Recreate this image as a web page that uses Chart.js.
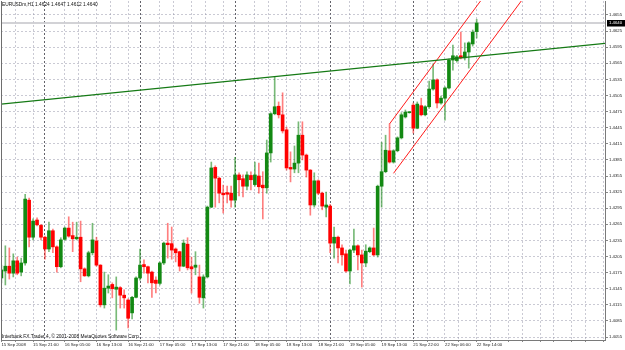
<!DOCTYPE html>
<html lang="en">
  <head>
    <meta charset="UTF-8" />
    <title>EURUSDm,H1</title>
    <style>
      html, body { margin: 0; padding: 0; background: #fff; }
      #wrap { position: relative; width: 625px; height: 350px; }
      #header, #footer {
        position: absolute;
        left: 2px;
        font-family: "Liberation Sans", Arial, sans-serif;
        font-size: 4.8px;
        line-height: 1;
        color: #111;
        white-space: nowrap;
      }
      #header { top: 3px; }
      #footer { top: 335px; }
    </style>
  </head>
  <body>
    <div id="wrap">
      <canvas id="eurusd" width="625" height="350"></canvas>
      <div id="header">EURUSDm,H1 1.4624 1.4647 1.4612 1.4640</div>
      <div id="footer">Interbank FX Trader 4, © 2001-2008 MetaQuotes Software Corp.</div>
    </div>
    <script src="https://cdn.jsdelivr.net/npm/chart.js"></script>
    <script>
      // EURUSDm H1 bars, 15 Sep 2008 13:00 .. 22 Sep 14:00
      const opens = [
        1.4165, 1.4178, 1.4187, 1.4174, 1.4197, 1.4176, 1.4193, 1.4310, 1.4241, 1.4273,
        1.4263, 1.4241, 1.4219, 1.4253, 1.4223, 1.4186, 1.4237, 1.4258, 1.4244, 1.4238,
        1.4241, 1.4182, 1.4169, 1.4212, 1.4234, 1.4189, 1.4115, 1.4146, 1.4153, 1.4144,
        1.4147, 1.4133, 1.4124, 1.4100, 1.4129, 1.4165, 1.4190, 1.4186, 1.4176, 1.4161,
        1.4155, 1.4193, 1.4230, 1.4229, 1.4219, 1.4214, 1.4187, 1.4228, 1.4186, 1.4185,
        1.4167, 1.4128, 1.4167, 1.4297, 1.4371, 1.4351, 1.4323, 1.4324, 1.4323, 1.4310,
        1.4357, 1.4350, 1.4336, 1.4356, 1.4339, 1.4355, 1.4338, 1.4333, 1.4398, 1.4471,
        1.4485, 1.4469, 1.4441, 1.4371, 1.4368, 1.4379, 1.4431, 1.4394, 1.4366, 1.4301,
        1.4346, 1.4323, 1.4297, 1.4299, 1.4230, 1.4241, 1.4221, 1.4210, 1.4178, 1.4217,
        1.4225, 1.4208, 1.4193, 1.4214, 1.4221, 1.4208, 1.4336, 1.4363, 1.4402, 1.4381,
        1.4402, 1.4426, 1.4465, 1.4473, 1.4487, 1.4444, 1.4486, 1.4469, 1.4484, 1.4517,
        1.4534, 1.4491, 1.4500, 1.4519, 1.4571, 1.4570, 1.4579, 1.4575, 1.4586, 1.4601,
        1.4624
      ];
      const highs = [
        1.4189, 1.4225, 1.4221, 1.4210, 1.4204, 1.4202, 1.4321, 1.4314, 1.4275, 1.4277,
        1.4265, 1.4243, 1.4269, 1.4256, 1.4225, 1.4240, 1.4260, 1.4279, 1.4269, 1.4269,
        1.4271, 1.4184, 1.4215, 1.4267, 1.4241, 1.4190, 1.4176, 1.4171, 1.4156, 1.4167,
        1.4149, 1.4143, 1.4126, 1.4131, 1.4167, 1.4219, 1.4199, 1.4187, 1.4178, 1.4167,
        1.4195, 1.4232, 1.4267, 1.4260, 1.4221, 1.4215, 1.4236, 1.4240, 1.4204, 1.4214,
        1.4189, 1.4171, 1.4299, 1.4381, 1.4374, 1.4353, 1.4338, 1.4336, 1.4336, 1.4390,
        1.4361, 1.4357, 1.4363, 1.4363, 1.4381, 1.4379, 1.4363, 1.4422, 1.4473, 1.4540,
        1.4493, 1.4510, 1.4446, 1.4400, 1.4411, 1.4456, 1.4456, 1.4396, 1.4367, 1.4361,
        1.4348, 1.4325, 1.4325, 1.4302, 1.4260, 1.4243, 1.4227, 1.4217, 1.4219, 1.4256,
        1.4227, 1.4217, 1.4227, 1.4223, 1.4258, 1.4338, 1.4418, 1.4431, 1.4452, 1.4404,
        1.4428, 1.4473, 1.4478, 1.4474, 1.4491, 1.4493, 1.4500, 1.4486, 1.4532, 1.4564,
        1.4536, 1.4504, 1.4521, 1.4573, 1.4599, 1.4580, 1.4623, 1.4603, 1.4605, 1.4627,
        1.4647
      ];
      const lows = [
        1.4156, 1.4152, 1.4163, 1.4167, 1.4171, 1.4169, 1.4189, 1.4223, 1.4236, 1.4262,
        1.4236, 1.4200, 1.4214, 1.4212, 1.4176, 1.4184, 1.4235, 1.4241, 1.4214, 1.4236,
        1.4158, 1.4168, 1.4167, 1.4208, 1.4187, 1.4111, 1.4109, 1.4137, 1.4128, 1.4068,
        1.4109, 1.4109, 1.4072, 1.4089, 1.4128, 1.4161, 1.4174, 1.4156, 1.4129, 1.4137,
        1.4152, 1.4190, 1.4202, 1.4200, 1.4195, 1.4178, 1.4186, 1.4180, 1.4137, 1.4171,
        1.4118, 1.4109, 1.4165, 1.4296, 1.4297, 1.4305, 1.4286, 1.4305, 1.4297, 1.4297,
        1.4318, 1.4316, 1.4329, 1.4329, 1.4336, 1.4323, 1.4275, 1.4323, 1.4381, 1.4469,
        1.4463, 1.4435, 1.4366, 1.4344, 1.4361, 1.4361, 1.4385, 1.4353, 1.4282, 1.4297,
        1.4320, 1.4292, 1.4279, 1.4212, 1.4202, 1.4193, 1.4189, 1.4176, 1.4154, 1.4212,
        1.4180, 1.4148, 1.4186, 1.4212, 1.4206, 1.4204, 1.4297, 1.4361, 1.4379, 1.4379,
        1.4400, 1.4424, 1.4463, 1.4472, 1.4435, 1.4443, 1.4467, 1.4467, 1.4481, 1.4515,
        1.4482, 1.4489, 1.4459, 1.4517, 1.4552, 1.4567, 1.4573, 1.4571, 1.4556, 1.4597,
        1.4612
      ];
      const closes = [
        1.4180, 1.4187, 1.4174, 1.4197, 1.4174, 1.4193, 1.4312, 1.4241, 1.4271, 1.4264,
        1.4241, 1.4219, 1.4253, 1.4223, 1.4186, 1.4236, 1.4258, 1.4243, 1.4238, 1.4241,
        1.4182, 1.4169, 1.4212, 1.4236, 1.4189, 1.4115, 1.4146, 1.4150, 1.4145, 1.4148,
        1.4133, 1.4128, 1.4090, 1.4129, 1.4165, 1.4189, 1.4186, 1.4174, 1.4156, 1.4155,
        1.4193, 1.4230, 1.4227, 1.4217, 1.4212, 1.4187, 1.4230, 1.4184, 1.4182, 1.4189,
        1.4129, 1.4167, 1.4297, 1.4370, 1.4351, 1.4323, 1.4320, 1.4321, 1.4310, 1.4357,
        1.4348, 1.4336, 1.4357, 1.4348, 1.4357, 1.4335, 1.4333, 1.4398, 1.4471, 1.4484,
        1.4469, 1.4439, 1.4370, 1.4368, 1.4379, 1.4431, 1.4394, 1.4366, 1.4301, 1.4346,
        1.4323, 1.4299, 1.4301, 1.4230, 1.4241, 1.4221, 1.4208, 1.4178, 1.4217, 1.4225,
        1.4208, 1.4193, 1.4215, 1.4221, 1.4208, 1.4336, 1.4363, 1.4403, 1.4381, 1.4402,
        1.4426, 1.4469, 1.4474, 1.4473, 1.4444, 1.4489, 1.4469, 1.4484, 1.4517, 1.4534,
        1.4491, 1.4500, 1.4519, 1.4571, 1.4579, 1.4577, 1.4575, 1.4586, 1.4603, 1.4623,
        1.4640
      ];

      // time axis: a label every 8 bars
      const labelBars = [0, 8, 16, 24, 32, 40, 48, 56, 64, 72, 80, 88, 96, 104, 112, 120];
      const timeLabels = [
        "15 Sep 2008", "15 Sep 21:00", "16 Sep 05:00", "16 Sep 13:00", "16 Sep 21:00",
        "17 Sep 05:00", "17 Sep 13:00", "17 Sep 21:00", "18 Sep 05:00", "18 Sep 13:00",
        "18 Sep 21:00", "19 Sep 05:00", "19 Sep 13:00", "21 Sep 22:00", "22 Sep 06:00",
        "22 Sep 14:00"
      ];
      // period separators (start of a day)
      const separatorBars = [11, 35, 59, 83, 104];

      const priceTicks = [
        1.4055, 1.4085, 1.4115, 1.4145, 1.4175, 1.4205, 1.4235, 1.4265, 1.4295, 1.4325,
        1.4355, 1.4385, 1.4415, 1.4445, 1.4475, 1.4505, 1.4535, 1.4565, 1.4595, 1.4625,
        1.4655
      ];

      // drawn objects: trend line and equidistant channel
      const trendX = [-0.1, 152.4];
      const trendY = [1.4489, 1.4602];
      const chanUpX = [98, 130];
      const chanUpY = [1.4452, 1.4771];
      const chanLoX = [99, 140];
      const chanLoY = [1.4360, 1.4768];
      const bidPrice = 1.4640;

      const X_MIN = -0.1, X_MAX = 152.4;
      const Y_MIN = 1.40495, Y_MAX = 1.4681;

      const BULL = "#138913";
      const BEAR = "#ff0000";
      const BULL_WICK = "rgba(30,140,30,0.6)";
      const BEAR_WICK = "rgba(255,0,0,0.5)";
      const GRID = "rgba(150,150,170,0.5)";
      const SEP = "rgba(60,60,70,0.8)";
      const AXIS_FONT = { family: "Liberation Sans", size: 4.3 };

      // vertical grid every 4 bars, separators replace the nearby ones
      const gridBars = [];
      for (let b = 0; b <= X_MAX; b += 8) {
        gridBars.push(b);
        const mid = b + 3.5;
        if (mid <= X_MAX && !separatorBars.some((s) => Math.abs(s - mid) < 1.5)) gridBars.push(mid);
      }
      separatorBars.forEach((s) => { if (!gridBars.includes(s)) gridBars.push(s); });
      gridBars.sort((a, b) => a - b);

      const idx = opens.map((_, i) => i);
      const up = (i) => closes[i] >= opens[i];

      const framePlugin = {
        id: "frame",
        afterDraw(chart) {
          const { ctx, chartArea, scales } = chart;
          ctx.save();
          // left border
          ctx.strokeStyle = "#6e6e6e";
          ctx.lineWidth = 1;
          ctx.beginPath();
          ctx.moveTo(chartArea.left + 0.5, chartArea.top);
          ctx.lineTo(chartArea.left + 0.5, chartArea.bottom);
          ctx.stroke();
          // current price box
          const y = scales.y.getPixelForValue(bidPrice);
          ctx.fillStyle = "#000";
          ctx.fillRect(chartArea.right + 2, y - 3, 18, 6.5);
          ctx.fillStyle = "#fff";
          ctx.font = "4.3px 'Liberation Sans'";
          ctx.textBaseline = "middle";
          ctx.fillText(bidPrice.toFixed(4), chartArea.right + 4, y + 0.3);
          ctx.restore();
        },
      };

      new Chart(document.getElementById("eurusd"), {
        type: "bar",
        data: {
          datasets: [
            {
              type: "line",
              data: [{ x: X_MIN, y: bidPrice }, { x: X_MAX, y: bidPrice }],
              borderColor: "rgba(205,205,210,0.9)",
              borderWidth: 2,
              pointRadius: 0,
              order: 6,
            },
            {
              data: idx.map((i) => ({ x: i, y: [lows[i], highs[i]] })),
              backgroundColor: (c) => (up(c.dataIndex) ? BULL_WICK : BEAR_WICK),
              barThickness: 1,
              grouped: false,
              order: 5,
            },
            {
              data: idx.map((i) => ({ x: i, y: [opens[i], closes[i]] })),
              backgroundColor: (c) => (up(c.dataIndex) ? BULL : BEAR),
              barThickness: 3,
              minBarLength: 1,
              grouped: false,
              order: 4,
            },
            {
              type: "line",
              data: trendX.map((x, i) => ({ x, y: trendY[i] })),
              borderColor: "#157a15",
              borderWidth: 1.2,
              pointRadius: 0,
              order: 1,
            },
            {
              type: "line",
              data: chanUpX.map((x, i) => ({ x, y: chanUpY[i] })),
              borderColor: "#ff1a1a",
              borderWidth: 1,
              pointRadius: 0,
              order: 1,
            },
            {
              type: "line",
              data: chanLoX.map((x, i) => ({ x, y: chanLoY[i] })),
              borderColor: "#ff1a1a",
              borderWidth: 1,
              pointRadius: 0,
              order: 1,
            },
          ],
        },
        options: {
          responsive: false,
          animation: false,
          events: [],
          layout: { padding: { left: 1, top: 1, right: 0, bottom: 0 } },
          plugins: { legend: { display: false }, tooltip: { enabled: false } },
          scales: {
            x: {
              type: "linear",
              min: X_MIN,
              max: X_MAX,
              offset: false,
              afterBuildTicks: (s) => { s.ticks = gridBars.map((v) => ({ value: v })); },
              afterFit: (s) => {
                s.height = 10;
                s.paddingLeft = s.paddingRight = 0;
              },
              grid: {
                offset: false,
                color: (c) => (c.tick && separatorBars.includes(c.tick.value) ? SEP : GRID),
                tickColor: "#888",
                tickLength: 2,
              },
              border: { color: "#7a7a7a", dash: [2, 2] },
              ticks: {
                autoSkip: false,
                maxRotation: 0,
                minRotation: 0,
                align: "start",
                padding: 0,
                color: "#222",
                font: AXIS_FONT,
                callback: (v) => {
                  const k = labelBars.indexOf(v);
                  return k >= 0 ? timeLabels[k] : "";
                },
              },
            },
            y: {
              position: "right",
              min: Y_MIN,
              max: Y_MAX,
              afterBuildTicks: (s) => { s.ticks = priceTicks.map((v) => ({ value: v })); },
              afterFit: (s) => {
                s.width = 20;
                s.paddingTop = s.paddingBottom = 0;
              },
              grid: { color: GRID, tickColor: "#888", tickLength: 3 },
              border: { color: "#7a7a7a", dash: [2, 2] },
              ticks: {
                padding: 1,
                color: "#222",
                font: AXIS_FONT,
                callback: (v) => v.toFixed(4),
              },
            },
          },
        },
        plugins: [framePlugin],
      });
    </script>
  </body>
</html>
